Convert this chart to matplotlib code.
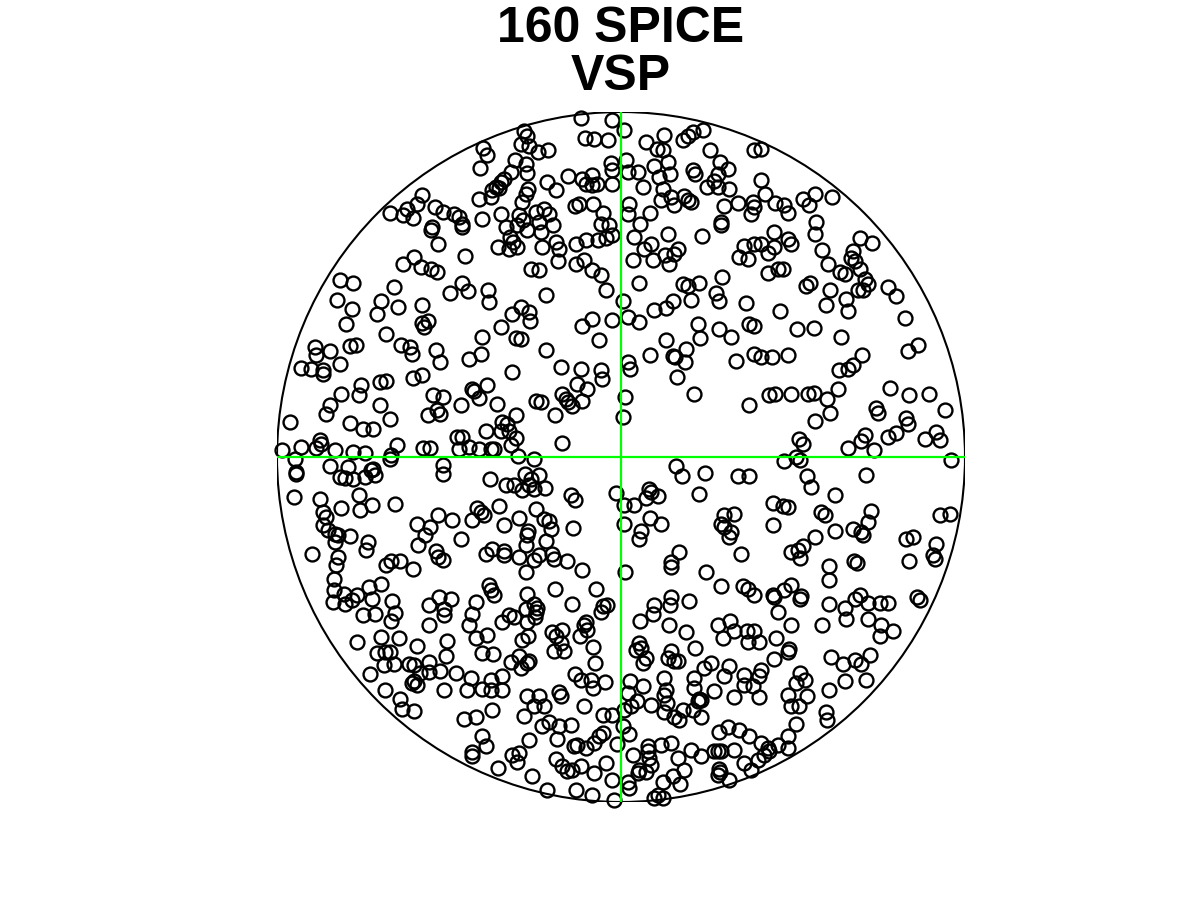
import numpy as np
import matplotlib.pyplot as plt
from matplotlib.patches import Circle

R_NET = 344

east = [
    # NW
    -199, -204, -214, -218, -208, -231, -186, -178, -189, -190, -183, -207, -218, -200, -190, -184, -171, -281, -268, -227,
    -284, -269, -240, -244, -223, -199, -199, -193, -197, -275, -235,
    -40, -9, -36, -27, -13, -97, -94, -100, -92, -83, -73, -138, -134, -141, -106, -95, -110, -94, -117, -120,
    -125, -129, -122, -142, -130, -93, -95, -99, -74, -65, -53, -39, -35, -29, -29, -24, -9, -10, -9, -46,
    -42, -28, -18, -20, -12, -9, -85, -77, -72, -82, -68, -102, -98, -94, -104, -115, -111, -108, -104, -112,
    -123, -120, -139, -159, -159, -167, -162, -80, -79, -65, -62, -45, -35, -23, -15, -156, -63, -45, -37, -29,
    -20, -90, -82, -159, -153, -133, -132, -75, -15, -9, -100, -92, -109, -91, -120, -29, -39, -22, -139, -105, -100,
    # NE
    3, 25, 43, 62, 67, 72, 82, 36, 42, 89, 133, 140, 5, 7, 17, 33, 47, 49, 38, 72,
    74, 99, 107, 97, 93, 97, 108, 86, 140, 144, 154, 163, 167, 132, 133, 130, 117, 103, 22, 42,
    40, 50, 53, 63, 67, 70, 8, 7, 29, 19, 100, 100, 47, 81, 13, 23, 30, 32, 12, 44,
    48, 53, 57, 123, 133, 140, 147, 153, 153, 167, 170, 118, 127, 147, 157, 162, 18, 62, 67, 78,
    101, 95, 98, 70, 52, 45, 33, 125, 159, 2, 7, 18, 77, 98, 128, 133, 110, 45, 79,
    182, 194, 188, 211, 195, 194, 201, 239, 251, 232, 230, 234, 239, 207, 219, 224, 244, 247, 237, 242,
    185, 189, 209, 267, 275, 225, 205, 227, 284, 176, 193, 220,
    # W, middle band
    -306, -305, -291, -271, -265, -220, -211, -209, -185, -181, -320, -310, -298, -298, -281, -260, -262, -280, -241, -235,
    -241, -208, -199, -188, -178, -184, -181, -193, -291, -295, -331, -271, -258, -248, -231, -301, -300, -305, -320, -339,
    -286, -268, -256, -224, -230, -231, -198, -191, -326, -325, -325, -291, -273, -281, -276, -268, -256, -248, -246, -250,
    -178, -178, -327, -301, -298, -295, -298, -293, -286, -283, -286, -271, -280, -262, -261, -249, -226, -253, -255, -309,
    -283, -285, -235, -230, -221, -208, -204, -203, -196, -191, -183, -185, -183, -178,
    -75, -152, -140, -109, -60, -40, -44, -20, -19, -34, -39, -59, -55, -53, -49, -66, -160, -149, -147, -142,
    -134, -124, -85, -80, -105, -119, -114, -135, -120, -112, -105, -110, -164, -159, -152, -162, -142, -130, -127, -59,
    -103, -87, -131, -115, -107, -96, -90, -82, -92, -87, -76, -99, -50, -46, -5, -169, -144, -140, -137, -149,
    -122, -117, -102, -85, -77, -72, -70, -93, -94, -95, -75, -48, -160, -135, -129, -117, -117, -102, -87, -82,
    -69, -67, -54, -39, -95,
    # E, middle band
    7, 9, 29, 52, 54, 65, 64, 56, 73, 115, 133, 140, 151, 167, 4, 2, 128, 148, 154, 170,
    55, 61, 84, 117, 128, 163, 78, 28, 30, 25, 37, 13, 3, 29, 40, 3, 20, 18, 103, 113,
    100, 103, 110, 108, 152, 162, 167, 152, 120, 58, 50, 50, 85, 4, 170,
    297, 287, 241, 232, 227, 218, 187, 193, 217, 206, 209, 194, 269, 288, 308, 324, 255, 257, 285, 287,
    275, 267, 244, 240, 227, 253, 178, 182, 304, 315, 319, 175, 179, 330, 245, 186, 190, 214, 200, 204,
    250, 247, 232, 240, 242, 214, 194, 182, 177, 179, 285, 292, 315, 312, 314, 319, 329, 288, 208, 233, 236,
    # SW
    -287, -287, -288, -277, -276, -269, -264, -252, -240, -249, -258, -246, -229, -226, -230, -192, -182, -177, -177, -192,
    -174, -175, -264, -240, -222, -204, -244, -236, -231, -237, -227, -212, -207, -192, -201, -192, -181, -251, -207, -209,
    -204, -236, -177, -221, -219, -207,
    -132, -130, -127, -94, -66, -25, -170, -145, -149, -152, -145, -134, -119, -112, -107, -95, -94, -87, -84, -86,
    -85, -49, -18, -14, -20, -35, -37, -34, -41, -69, -59, -65, -60, -57, -67, -93, -99, -28, -26, -139,
    -128, -110, -102, -100, -94, -92, -165, -150, -154, -139, -130, -119, -119, -130, -46, -40, -30, -28, -16, -94,
    -82, -87, -77, -62, -60, -97, -129, -157, -145, -37, -18, -9, -139, -135, -79, -72, -62, -50, -64, -92,
    -47, -44, -35, -27, -22, -18, -4, -149, -149, -109, -102, -104, -65, -59, -54, -49, -40, -27, -15, -9,
    -123, -89, -74, -45, -29, -7,
    # SE
    100, 122, 127, 133, 152, 153, 163, 170, 50, 49, 68, 33, 32, 19, 48, 65, 157, 170, 97, 109,
    113, 102, 126, 133, 127, 138, 155, 167, 168, 153, 18, 20, 15, 25, 22, 50, 47, 53, 57, 74,
    83, 90, 108, 103, 123, 123, 132, 140, 138, 73, 73, 93, 78, 80, 77, 113, 138, 167, 170, 9,
    22, 7, 3, 10, 16, 30, 43, 45, 43, 46, 43, 53, 58, 62, 72, 80, 2, 8, 98, 107,
    118, 128, 140, 147, 157, 167, 167, 12, 27, 27, 28, 30, 18, 17, 25, 40, 50, 57, 70, 80,
    63, 52, 42, 59, 93, 97, 100, 113, 98, 99, 97, 108, 123, 130, 137, 143, 148, 7, 8, 37,
    33, 42,
    208, 180, 179, 208, 224, 234, 239, 247, 259, 267, 296, 299, 201, 225, 247, 260, 272, 259, 210, 222,
    234, 240, 249, 179, 184, 175, 186, 208, 224, 245, 178, 205, 206, 175,
]

north = [
    # NW
    261, 252, 247, 241, 238, 243, 249, 244, 229, 226, 212, 199, 192, 189, 187, 184, 164, 176, 173, 170,
    157, 148, 156, 143, 150, 152, 134, 136, 130, 133, 123,
    338, 336, 318, 317, 316, 325, 320, 312, 310, 304, 306, 308, 301, 288, 296, 292, 284, 283, 277, 274,
    269, 266, 268, 257, 259, 267, 262, 254, 274, 266, 280, 277, 272, 281, 271, 272, 272, 293, 286, 250,
    252, 252, 243, 232, 231, 221, 244, 247, 242, 234, 231, 241, 236, 226, 231, 229, 219, 214, 209, 207,
    209, 242, 237, 232, 229, 242, 239, 224, 209, 214, 207, 212, 216, 216, 218, 200, 195, 192, 196, 186,
    181, 187, 186, 173, 166, 167, 155, 162, 167, 137, 150, 145, 143, 136, 130, 138, 131, 117, 120, 119, 118,
    # NE
    326, 314, 321, 316, 320, 324, 326, 307, 306, 306, 306, 307, 296, 284, 284, 290, 294, 282, 279, 286,
    282, 294, 287, 282, 275, 269, 267, 269, 276, 262, 253, 251, 243, 254, 249, 242, 253, 250, 269, 267,
    256, 259, 251, 260, 256, 254, 252, 242, 243, 232, 234, 231, 222, 220, 219, 207, 212, 196, 196, 201,
    192, 202, 207, 210, 212, 212, 203, 209, 224, 217, 212, 199, 197, 183, 187, 187, 173, 172, 171, 173,
    179, 164, 156, 157, 156, 149, 147, 154, 146, 156, 140, 135, 133, 128, 133, 131, 120, 117, 119,
    257, 262, 251, 259, 234, 222, 206, 218, 213, 205, 198, 195, 187, 192, 184, 182, 177, 172, 167, 167,
    171, 173, 167, 170, 161, 158, 152, 146, 139, 128, 129, 120,
    # W, middle band
    110, 102, 106, 111, 112, 112, 110, 103, 107, 95, 89, 88, 87, 83, 93, 72, 62, 63, 75, 76,
    52, 79, 82, 62, 60, 47, 43, 42, 52, 43, 35, 34, 28, 28, 38, 17, 13, 9, 10, 7,
    7, 5, 4, 12, 2, -2, 9, 9, -2, -15, -17, -9, -10, -20, -21, -22, -20, -12, -18, -13,
    -8, -17, -40, -42, -55, -60, -68, -73, -77, -78, -85, -79, -51, -38, -53, -48, -47, -85, -93, -97,
    -100, -108, -108, -104, -104, -112, -67, -88, -78, -70, -58, -94, -100, -103,
    107, 98, 103, 85, 90, 88, 73, 87, 78, 68, 56, 63, 58, 55, 51, 42, 52, 68, 66, 59,
    72, 53, 56, 55, 42, 35, 33, 26, 26, 26, 19, 12, 20, 20, 10, 8, 8, 8, 8, 14,
    1, -2, -22, -28, -28, -17, -22, -18, -28, -32, -31, -33, -38, -43, -36, -63, -51, -55, -58, -63,
    -49, -68, -61, -52, -62, -64, -72, -74, -78, -88, -84, -71, -82, -97, -92, -94, -98, -100, -103, -98,
    -97, -102, -104, -113, -115,
    # E, middle band
    95, 88, 102, 101, 100, 108, 95, 80, 63, 96, 103, 100, 100, 102, 60, 40, 52, 62, 63, 63,
    -9, -19, -16, -19, -19, -4, -37, -32, -35, -41, -39, -48, -48, -61, -67, -67, -74, -82, -58, -57,
    -67, -70, -75, -80, -46, -49, -50, -68, -97, -95, -105, -110, -115, -115, -95,
    112, 106, 102, 92, 88, 87, 63, 64, 68, 58, 44, 36, 69, 62, 63, 47, 49, 44, 39, 33,
    24, 20, 22, 16, 9, 7, 18, 13, 18, 25, 17, 0, -3, -3, -18, -19, -30, -38, -55, -58,
    -54, -65, -72, -75, -78, -74, -80, -89, -93, -101, -82, -80, -87, -98, -102, -58, -57, -104, -109, -104, -106,
    # SW
    -122, -133, -145, -137, -147, -143, -138, -130, -127, -142, -158, -157, -144, -156, -164, -148, -140, -152, -158, -168,
    -183, -198, -184, -179, -180, -188, -195, -194, -194, -207, -206, -206, -207, -204, -215, -214, -213, -216, -223, -225,
    -227, -232, -232, -241, -251, -253,
    -128, -133, -138, -137, -132, -132, -142, -145, -157, -168, -180, -177, -165, -158, -160, -152, -165, -147, -151, -160,
    -155, -147, -149, -148, -155, -165, -168, -172, -178, -174, -172, -178, -185, -193, -193, -178, -182, -189, -205, -195,
    -196, -204, -198, -210, -205, -203, -215, -220, -232, -231, -222, -218, -232, -232, -216, -222, -222, -230, -224, -238,
    -238, -248, -248, -234, -238, -258, -252, -261, -259, -248, -257, -257, -278, -288, -268, -264, -268, -267, -281, -282,
    -288, -287, -290, -285, -278, -275, -286, -294, -298, -297, -295, -304, -301, -308, -313, -312, -308, -315, -305, -322,
    -310, -318, -332, -332, -337, -342,
    # SE
    -129, -129, -132, -138, -138, -140, -133, -128, -140, -148, -144, -148, -157, -164, -168, -174, -155, -168, -168, -164,
    -173, -180, -173, -173, -184, -184, -180, -194, -191, -201, -185, -190, -192, -200, -205, -193, -200, -203, -203, -190,
    -210, -205, -208, -218, -217, -227, -228, -212, -218, -220, -230, -233, -241, -242, -243, -239, -239, -237, -248, -223,
    -228, -235, -252, -248, -243, -247, -220, -232, -237, -245, -254, -259, -262, -252, -252, -259, -268, -276, -274, -269,
    -272, -278, -285, -290, -287, -278, -290, -297, -288, -293, -300, -307, -312, -315, -314, -287, -285, -300, -292, -298,
    -312, -318, -324, -326, -293, -293, -293, -292, -311, -314, -317, -322, -305, -312, -302, -297, -293, -324, -330, -337,
    -340, -340,
    -123, -139, -142, -147, -151, -142, -138, -146, -146, -146, -140, -143, -168, -162, -162, -168, -173, -178, -199, -206,
    -202, -206, -197, -215, -222, -225, -238, -232, -223, -222, -248, -254, -262, -266,
]

title_lines = ['160 SPICE', 'VSP']

fig = plt.figure(figsize=(12, 9), dpi=100)
# axes box placed so the net sits where it is in the original figure
ax = fig.add_axes([277/1200, 98/900, 688/1200, 690/900])
ax.set_xlim(-R_NET, R_NET)
ax.set_ylim(-R_NET, R_NET)
ax.axis('off')

ax.plot(east, north, linestyle='none', marker='o', markersize=10,
        markerfacecolor='none', markeredgecolor='black', markeredgewidth=1.7,
        clip_on=False, zorder=2)

# primitive circle and N-S / E-W cross
ax.add_patch(Circle((0, 0), R_NET, fill=False, edgecolor='black', linewidth=1.5, zorder=1))
ax.plot([0, 0], [-R_NET, R_NET], color='#00ff00', linewidth=1.6, zorder=3)
ax.plot([-R_NET, R_NET], [0, 0], color='#00ff00', linewidth=1.6, zorder=3)

fig.text(621/1200, 1 - 42/900, title_lines[0], ha='center', va='baseline',
         fontsize=36, fontweight='bold', family='Liberation Sans')
fig.text(621/1200, 1 - 90/900, title_lines[1], ha='center', va='baseline',
         fontsize=36, fontweight='bold', family='Liberation Sans')

fig.savefig('out.png', dpi=100, facecolor='white')
